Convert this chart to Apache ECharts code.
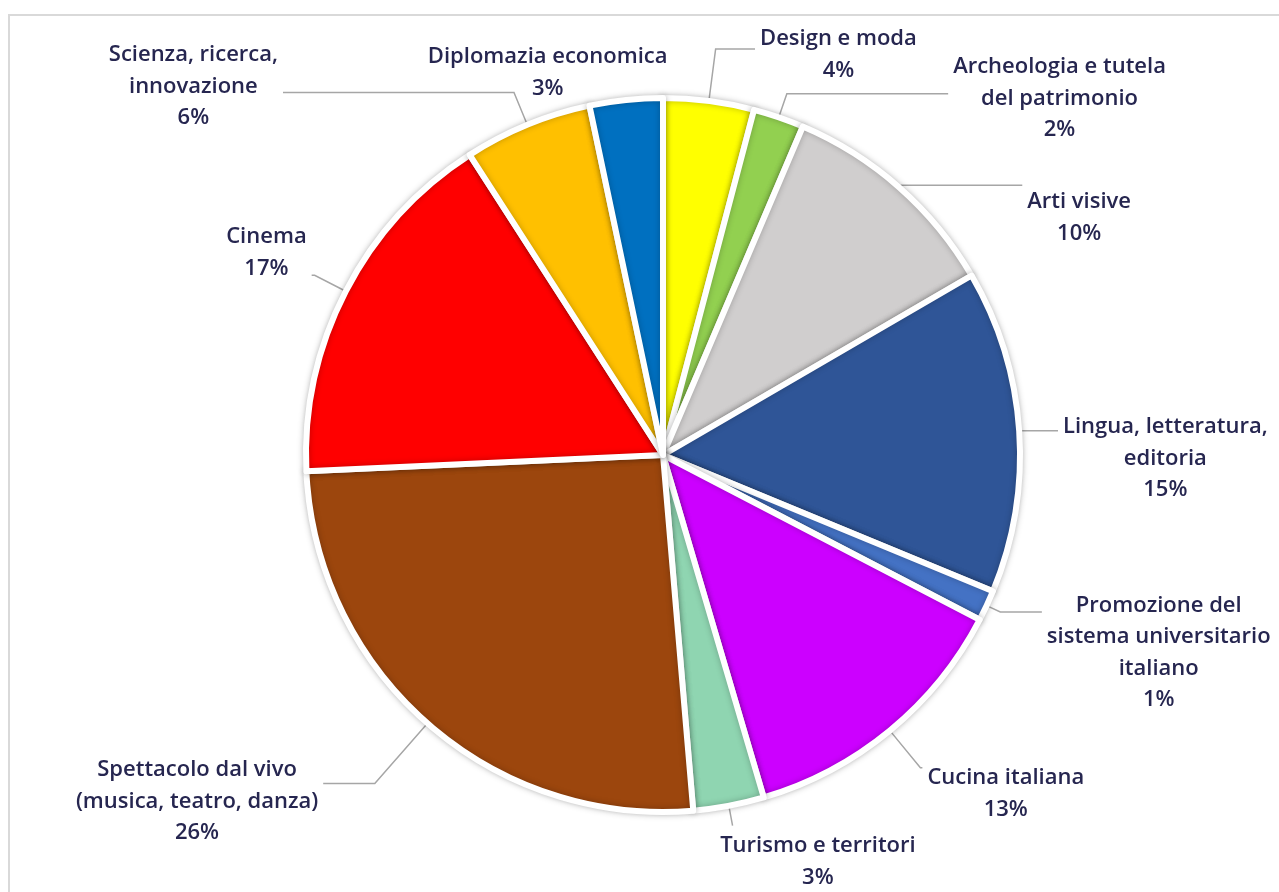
<!DOCTYPE html>
<html>
<head>
<meta charset="utf-8">
<script src="https://cdn.jsdelivr.net/npm/echarts@6/dist/echarts.min.js"></script>
<style>
html,body{margin:0;padding:0;background:#fff;}
#frame{position:absolute;left:8px;top:14px;width:1290px;height:900px;border:2px solid #d9d9d9;box-sizing:border-box;}
#chart{position:absolute;left:0;top:0;width:1279px;height:892px;}
</style>
</head>
<body>
<div id="frame"></div>
<div id="chart"></div>
<script>
const categories = [
  "Design e moda",
  "Archeologia e tutela\ndel patrimonio",
  "Arti visive",
  "Lingua, letteratura,\neditoria",
  "Promozione del\nsistema universitario\nitaliano",
  "Cucina italiana",
  "Turismo e territori",
  "Spettacolo dal vivo\n(musica, teatro, danza)",
  "Cinema",
  "Scienza, ricerca,\ninnovazione",
  "Diplomazia economica"
];
const values = [4.1, 2.3, 10.2, 14.6, 1.4, 12.8, 3.2, 25.6, 16.6, 5.8, 3.3];
const colors = ["#FFFF00","#92D050","#D0CECE","#2F5597","#4472C4","#CC00FF","#8FD5B1","#9C460D","#FF0000","#FFC000","#0070C0"];

// label layout styling (per slice)
const lineLen1 = [52.4, 25, 3, 2, 15, 48, 20, 80, 35, 35, 5];
const lineLen2 = [39.4, 161.3, 121, 36.8, 41.6, 2, 0, 51.6, 3, 231, 0];
const labelDist = [5, 5, 5, 5, 5, 5, -12.4, 5, 5, 5, -42];
const lineAttach = [10, 26.5, -17, 3.6, 6.6, -10.5, -20.4, 13.3, 38, 37.6, 38];
const lineShown = [true, true, true, true, true, true, true, true, true, true, false];

const FS = 22, LH = 31.5;
const chart = echarts.init(document.getElementById('chart'));
const data = categories.map((c, i) => {
  const n = c.split('\n').length + 1;
  const diff = 2 * lineAttach[i] - (n - 1) * LH;
  const pad = diff >= 0 ? [0, 0, diff, 0] : [-diff, 0, 0, 0];
  return {
    name: c, value: values[i],
    itemStyle: { color: colors[i] },
    label: { padding: pad, distanceToLabelLine: labelDist[i] },
    labelLine: { show: lineShown[i], length: lineLen1[i], length2: lineLen2[i] }
  };
});
chart.setOption({
  animation: false,
  series: [{
    type: 'pie',
    center: [663, 455],
    radius: [0, 357],
    startAngle: 90,
    clockwise: true,
    avoidLabelOverlap: false,
    labelLayout: { hideOverlap: false },
    data: data,
    itemStyle: { borderColor: '#fff', borderWidth: 6, shadowBlur: 6, shadowColor: 'rgba(0,0,0,0.25)' },
    label: {
      show: true,
      position: 'outside',
      fontFamily: 'Open Sans',
      fontWeight: 600,
      fontSize: FS,
      color: '#262650',
      lineHeight: LH,
      formatter: p => p.name.split('\n').map(s => '{c|' + s + '}').join('\n') + '\n{c|' + Math.round(p.percent) + '%}',
      rich: { c: { align: 'center', fontFamily: 'Open Sans', fontWeight: 600, fontSize: FS, color: '#262650', lineHeight: LH } }
    },
    labelLine: { show: true, minTurnAngle: 0, maxSurfaceAngle: 180, lineStyle: { color: '#a6a6a6', width: 1.5 } }
  }]
});
</script>
</body>
</html>
